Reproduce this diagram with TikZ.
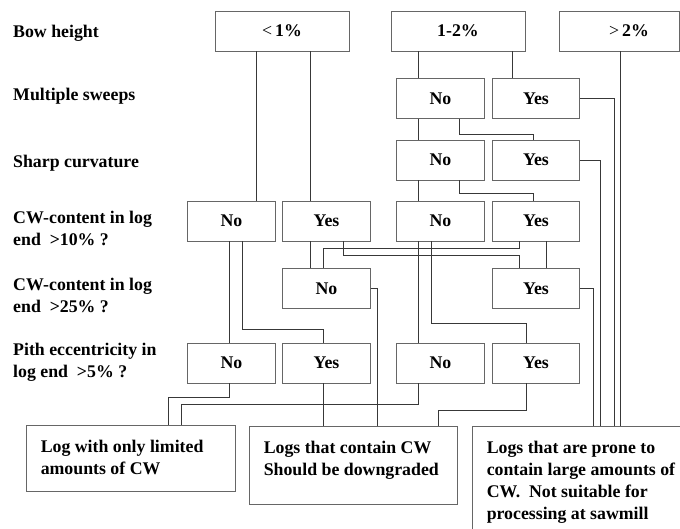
\documentclass[tikz,border=0pt]{standalone}
\usepackage{fontspec}
\setmainfont{Liberation Serif}
\begin{document}
\begin{tikzpicture}[x=1pt,y=-1pt,
  txt/.style={font=\fontsize{17.8}{22}\selectfont\bfseries},
  box/.style={txt, draw=black!60, line width=0.9pt, inner sep=0pt, fill=white},
  dec/.style={box, minimum width=87.5pt, minimum height=40pt},
  lbl/.style={txt, inner sep=0pt, align=left},
  ln/.style={draw=black!78, line width=0.9pt}]
\clip (0,0) rectangle (680,528);
\fill[white] (0,0) rectangle (680,528);

% row labels
\node[lbl, anchor=west] (l1) at (13,33) {Bow height};
\node[lbl, anchor=west] (l2) at (13,96) {Multiple sweeps};
\node[lbl, anchor=west] (l3) at (13,163) {Sharp curvature};
\node[lbl, anchor=west] (l4) at (13,228) {CW-content in log\\end\ \ >10\%~?};
\node[lbl, anchor=west] (l5) at (13,295) {CW-content in log\\end\ \ >25\%~?};
\node[lbl, anchor=west] (l6) at (13,362) {Pith eccentricity in\\log end\ \ >5\%~?};

% top boxes
\node[box, minimum width=134pt, minimum height=40pt] (b1) at (282,31) {{\mdseries<}\,1\%};
\node[box, minimum width=134pt, minimum height=40pt] (b2) at (458,31) {1-2\%};
\node[box, minimum width=120pt, minimum height=40pt] (b3) at (619,31) {\hspace*{20pt}{\mdseries>}\,2\%};

% multiple sweeps
\node[dec] (msno) at (440.5,98.5) {No};
\node[dec] (msyes) at (536,98.5) {Yes};
% sharp curvature
\node[dec] (scno) at (440.5,160) {No};
\node[dec] (scyes) at (536,160) {Yes};
% CW > 10%
\node[dec] (ano) at (231.5,221) {No};
\node[dec] (ayes) at (326.5,221) {Yes};
\node[dec] (bno) at (440.5,221) {No};
\node[dec] (byes) at (536,221) {Yes};
% CW > 25%
\node[dec] (cno) at (326.5,288.5) {No};
\node[dec] (cyes) at (536,288.5) {Yes};
% pith
\node[dec] (pno1) at (231.5,363) {No};
\node[dec] (pyes1) at (326.5,363) {Yes};
\node[dec] (pno2) at (440.5,363) {No};
\node[dec] (pyes2) at (536,363) {Yes};

% outcome boxes
\node[box, minimum width=209pt, minimum height=66pt] (lim) at (130.5,458) {};
\node[lbl, anchor=north west] (limt) at ([xshift=15pt,yshift=-15pt]lim.north west) {Log with only limited\\amounts of CW};
\node[box, minimum width=208pt, minimum height=78pt] (cw) at (353,465) {};
\node[lbl, anchor=north west] (cwt) at ([xshift=15pt,yshift=-15pt]cw.north west) {Logs that contain CW\\Should be downgraded};
\node[box, minimum width=212pt, minimum height=119pt] (prone) at (578,485.5) {};
\node[lbl, anchor=north west] (pronet) at ([xshift=15pt,yshift=-15pt]prone.north west) {Logs that are prone to\\contain large amounts of\\CW.\ \ Not suitable for\\processing at sawmill};

% connectors from top boxes
\draw[ln] ([xshift=-26pt]b1.south) -- ([xshift=-26pt]b1.south |- ano.north);
\draw[ln] ([xshift=28pt]b1.south) -- ([xshift=28pt]b1.south |- ayes.north);
\draw[ln] ([xshift=-40pt]b2.south) -- ([xshift=-40pt]b2.south |- msno.north);
\draw[ln] ([xshift=54pt]b2.south) -- ([xshift=54pt]b2.south |- msyes.north);
\draw[ln] ([xshift=1pt]b3.south) -- ([xshift=1pt]b3.south |- prone.north);

% multiple sweeps
\draw[ln] (msyes.east) -| ([xshift=36pt]prone.north);
\draw[ln] ([xshift=-22.5pt]msno.south) -- ([xshift=-22.5pt]msno.south |- scno.north);
\draw[ln] ([xshift=18.5pt]msno.south) -- ++(0,15) -| ([xshift=-3pt]scyes.north);

% sharp curvature
\draw[ln] (scyes.east) -| ([xshift=22pt]prone.north);
\draw[ln] ([xshift=-22.5pt]scno.south) -- ([xshift=-22.5pt]scno.south |- bno.north);
\draw[ln] ([xshift=18.5pt]scno.south) -- ++(0,13) -| ([xshift=-3pt]byes.north);

% CW > 10%
\draw[ln] ([xshift=-2.5pt]ano.south) -- ([xshift=-2.5pt]ano.south |- pno1.north);
\draw[ln] ([xshift=10.5pt]ano.south) -- ++(0,88) -| ([xshift=-3.5pt]pyes1.north);
\draw[ln] ([xshift=-16.5pt]ayes.south) -- ([xshift=-16.5pt]ayes.south |- cno.north);
\draw[ln] ([xshift=16.5pt]ayes.south) -- ++(0,14) -| ([xshift=-17pt]cyes.north);
\draw[ln] ([xshift=-17pt]byes.south) -- ++(0,7) -| ([xshift=-3.5pt]cno.north);
\draw[ln] ([xshift=-22.5pt]bno.south) -- ([xshift=-22.5pt]bno.south |- pno2.north);
\draw[ln] ([xshift=-9.5pt]bno.south) -- ++(0,82) -| ([xshift=-10pt]pyes2.north);
\draw[ln] ([xshift=10pt]byes.south) -- ([xshift=10pt]byes.south |- cyes.north);

% CW > 25%
\draw[ln] (cno.east) -| ([xshift=24pt]cw.north);
\draw[ln] (cyes.east) -| ([xshift=15pt]prone.north);

% pith
\draw[ln] ([xshift=-2.5pt]pno1.south) -- ++(0,14) -| ([xshift=37.5pt]lim.north);
\draw[ln] ([xshift=-22.5pt]pno2.south) -- ++(0,21) -| ([xshift=50.5pt]lim.north);
\draw[ln] ([xshift=-3.5pt]pyes1.south) -- ([xshift=-3.5pt]pyes1.south |- cw.north);
\draw[ln] ([xshift=-10pt]pyes2.south) -- ++(0,27) -| ([xshift=85pt]cw.north);
\end{tikzpicture}
\end{document}
